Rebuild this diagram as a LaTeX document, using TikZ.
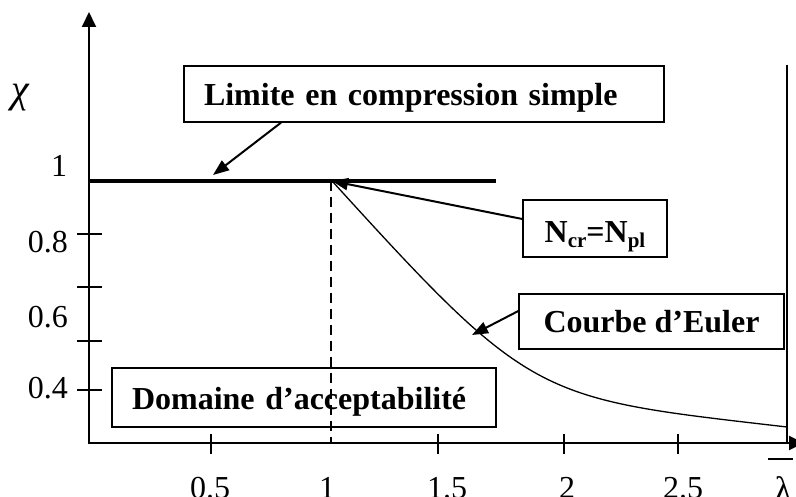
\documentclass[tikz,border=0pt]{standalone}
\usepackage{fontspec}
\setmainfont{Liberation Serif}
\usetikzlibrary{arrows.meta}
\begin{document}
\begin{tikzpicture}[x=1pt,y=-1pt,
  box/.style={draw, line width=1.3pt, inner sep=0pt,
    font=\fontsize{32}{32}\selectfont\bfseries, text height=27pt, text depth=4pt},
  lbl/.style={font=\fontsize{32}{32}\selectfont, inner sep=0pt},
  axis/.style={line width=2pt},
  tickmark/.style={line width=1.8pt},
  callout/.style={line width=2pt, -{Triangle[length=16pt,width=12pt]}},
]
\useasboundingbox (0,0) rectangle (796,497);
% axes
\coordinate (O) at (89,443);
\coordinate (ytop) at (89,12);
\coordinate (xend) at (804,443);
\draw[axis, -{Triangle[length=15pt,width=14pt]}] (89,444) -- (ytop);
\draw[axis, -{Triangle[length=15pt,width=14pt]}] (88,443) -- (xend);
% y ticks
\foreach \yy in {234,287,341,390} \draw[tickmark] (77,\yy) -- (102,\yy);
% x ticks
\foreach \xx in {211,438,564,678} \draw[tickmark] (\xx,434) -- (\xx,454);
% limit line, dashed line, right border, Euler curve
\coordinate (P) at (332,181);
\draw[line width=4pt] (89,181) -- (496,181);
\draw[line width=1.5pt, dash pattern=on 10pt off 6pt] (331,181) -- (331,443);
\draw[line width=1.5pt] (787,65) -- (787,443);
\draw[line width=1.3pt] (333,182) .. controls (533,402) and (537,398) .. (787,427);
% boxes
\node[box, minimum width=480pt, minimum height=56pt, text width=440pt, align=left, inner xsep=20pt]
  (lim) at (424,94) {Limite en compression simple};
\node[box, minimum width=144pt, minimum height=57pt, text height=31pt, text depth=2pt]
  (ncr) at (595,228.5) {N\raisebox{-5pt}{\fontsize{21}{21}\selectfont cr}=N\raisebox{-5pt}{\fontsize{21}{21}\selectfont pl}};
\node[box, minimum width=265pt, minimum height=55pt] (eul) at (651.5,321.5) {Courbe d’Euler};
\node[box, minimum width=384pt, minimum height=59pt, text width=344pt, align=left, inner xsep=20pt]
  (dom) at (304,397.5) {Domaine d’acceptabilité};
% callouts
\coordinate (t1) at (213,175);
\coordinate (t3) at (472,335);
\draw[callout] ([xshift=-143pt]lim.south) -- (t1);
\draw[callout] ([yshift=9.5pt]ncr.west) -- (P);
\draw[callout] ([yshift=10.5pt]eul.west) -- (t3);
% labels
\node[inner sep=0pt, font=\fontsize{40}{40}\selectfont\itshape] (chi) at (20.5,97.5) {χ};
\node[lbl, anchor=base] (y1) at (59,177) {1};
\node[lbl, anchor=base east] (y08) at (68,253) {0.8};
\node[lbl, anchor=base east] (y06) at (68,327) {0.6};
\node[lbl, anchor=base east] (y04) at (68,399) {0.4};
\node[lbl, anchor=base] (x05) at (210,498) {0.5};
\node[lbl, anchor=base] (x1) at (327,498) {1};
\node[lbl, anchor=base] (x15) at (447,498) {1.5};
\node[lbl, anchor=base] (x2) at (567,498) {2};
\node[lbl, anchor=base] (x25) at (683,498) {2.5};
\node[inner sep=0pt, anchor=base, font=\fontsize{34}{34}\selectfont] (lam) at (783,500) {λ};
\draw[line width=1.5pt] (768,459) -- (793,459);
\end{tikzpicture}
\end{document}
